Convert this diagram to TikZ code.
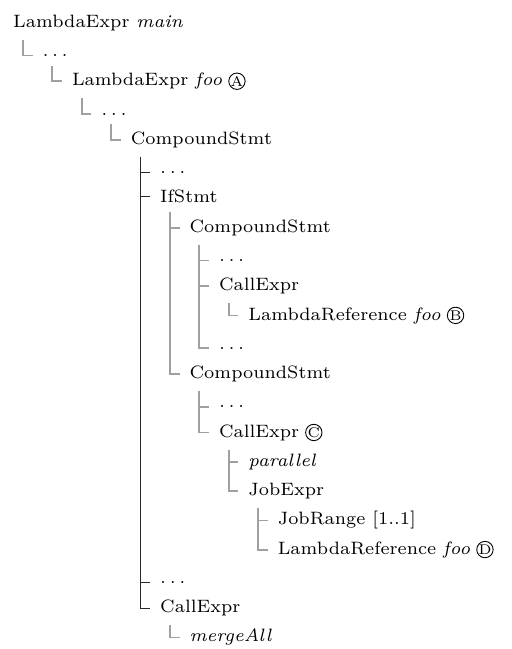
\documentclass[tikz,border=0pt]{standalone}
\definecolor{treegray}{RGB}{160,160,160}
\definecolor{treeblack}{RGB}{40,40,40}
\tikzset{
  lbl/.style={anchor=base west, inner sep=0pt, font=\fontsize{7}{8.4}\selectfont},
  tag/.style={circle, draw, line width=0.35pt, minimum size=6.4pt, inner sep=0pt,
              font=\fontsize{5.5}{6}\selectfont},
  grayline/.style={draw=treegray, line width=0.7pt},
  blackline/.style={draw=treeblack, line width=0.45pt},
}
% one folder-style branch: a vertical drop from the parent, a tick to each child
\newcommand\treebranch[3]{%
  \foreach \kid in {#3}{%
    \draw[#1] ([xshift=4pt,yshift=-3.3pt]#2.south west) |- ([xshift=-3.7pt]\kid.west);
  }}
% circled marker after a label
\newcommand\tagafter[3]{%
  \node[tag] (#1) at ([xshift=5.5pt,yshift=1.8pt]#2.base east) {#3};}
\newcommand\elide{$\dots$}
\begin{document}
\begin{tikzpicture}[x=0.390625pt, y=-0.390625pt]
\useasboundingbox (0,0) rectangle (512,649);
% rows: baseline y = 27.3 + 29.27 k, indent x = 12.7 + 29.4 level
\node[lbl] (n0)  at ({12.7+29.4*0},{27.3+29.27*0})  {LambdaExpr \textit{main}};
\node[lbl] (n1)  at ({12.7+29.4*1},{27.3+29.27*1})  {\elide};
\node[lbl] (n2)  at ({12.7+29.4*2},{27.3+29.27*2})  {LambdaExpr \textit{foo}};
\node[lbl] (n3)  at ({12.7+29.4*3},{27.3+29.27*3})  {\elide};
\node[lbl] (n4)  at ({12.7+29.4*4},{27.3+29.27*4})  {CompoundStmt};
\node[lbl] (n5)  at ({12.7+29.4*5},{27.3+29.27*5})  {\elide};
\node[lbl] (n6)  at ({12.7+29.4*5},{27.3+29.27*6})  {IfStmt};
\node[lbl] (n7)  at ({12.7+29.4*6},{27.3+29.27*7})  {CompoundStmt};
\node[lbl] (n8)  at ({12.7+29.4*7},{27.3+29.27*8})  {\elide};
\node[lbl] (n9)  at ({12.7+29.4*7},{27.3+29.27*9})  {CallExpr};
\node[lbl] (n10) at ({12.7+29.4*8},{27.3+29.27*10}) {LambdaReference \textit{foo}};
\node[lbl] (n11) at ({12.7+29.4*7},{27.3+29.27*11}) {\elide};
\node[lbl] (n12) at ({12.7+29.4*6},{27.3+29.27*12}) {CompoundStmt};
\node[lbl] (n13) at ({12.7+29.4*7},{27.3+29.27*13}) {\elide};
\node[lbl] (n14) at ({12.7+29.4*7},{27.3+29.27*14}) {CallExpr};
\node[lbl] (n15) at ({12.7+29.4*8},{27.3+29.27*15}) {\textit{parallel}};
\node[lbl] (n16) at ({12.7+29.4*8},{27.3+29.27*16}) {JobExpr};
\node[lbl] (n17) at ({12.7+29.4*9},{27.3+29.27*17}) {JobRange [1..1]};
\node[lbl] (n18) at ({12.7+29.4*9},{27.3+29.27*18}) {LambdaReference \textit{foo}};
\node[lbl] (n19) at ({12.7+29.4*5},{27.3+29.27*19}) {\elide};
\node[lbl] (n20) at ({12.7+29.4*5},{27.3+29.27*20}) {CallExpr};
\node[lbl] (n21) at ({12.7+29.4*6},{27.3+29.27*21}) {\textit{mergeAll}};
% markers
\tagafter{mA}{n2}{A}
\tagafter{mB}{n10}{B}
\tagafter{mC}{n14}{C}
\tagafter{mD}{n18}{D}
% branches
\treebranch{grayline}{n0}{n1}
\treebranch{grayline}{n1}{n2}
\treebranch{grayline}{n2}{n3}
\treebranch{grayline}{n3}{n4}
\treebranch{blackline}{n4}{n5,n6,n19,n20}
\treebranch{grayline}{n6}{n7,n12}
\treebranch{grayline}{n7}{n8,n9,n11}
\treebranch{grayline}{n9}{n10}
\treebranch{grayline}{n12}{n13,n14}
\treebranch{grayline}{n14}{n15,n16}
\treebranch{grayline}{n16}{n17,n18}
\treebranch{grayline}{n20}{n21}
\end{tikzpicture}
\end{document}
